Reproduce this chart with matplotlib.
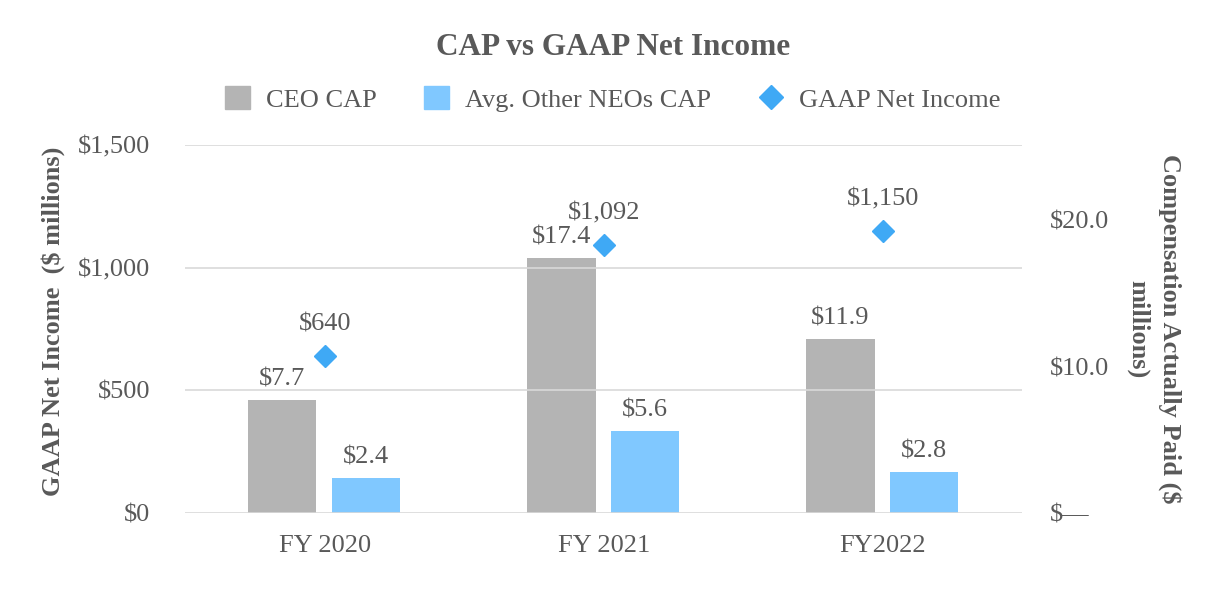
import matplotlib.pyplot as plt
import numpy as np
from matplotlib.patches import Patch
from matplotlib.lines import Line2D

plt.rcParams["font.family"] = ["Liberation Serif", "DejaVu Serif"]

# data
years = ["FY 2020", "FY 2021", "FY2022"]
ceo_cap = [7.7, 17.4, 11.9]
neo_cap = [2.4, 5.6, 2.8]
net_income = [640, 1092, 1150]

TXT = "#595959"
GRAY = "#B4B4B4"
LIGHT = "#80C8FF"
DIAMOND = "#3FA9F5"
FS = 19

fig = plt.figure(figsize=(12.26, 5.9), dpi=100)
ax = fig.add_axes([0.151, 0.1305, 0.683, 0.6235])
ax2 = ax.twinx()

x = np.arange(len(years))
w = 0.245

# bars on the right (compensation) axis
ax2.bar(x - 0.152, ceo_cap, w, color=GRAY, zorder=2)
ax2.bar(x + 0.148, neo_cap, w, color=LIGHT, zorder=2)
for xi, v in zip(x, ceo_cap):
    ax2.annotate(f"${v:.1f}", (xi - 0.152, v), xytext=(0, 7), textcoords="offset points",
                 ha="center", va="bottom", fontsize=FS, color=TXT)
for xi, v in zip(x, neo_cap):
    ax2.annotate(f"${v:.1f}", (xi + 0.148, v), xytext=(0, 7), textcoords="offset points",
                 ha="center", va="bottom", fontsize=FS, color=TXT)

# diamonds on the left (net income) axis
ax.plot(x, net_income, linestyle="none", marker="D", markersize=11, color=DIAMOND, zorder=3)
for xi, v in zip(x, net_income):
    ax.annotate(f"${v:,.0f}", (xi, v), xytext=(0, 15), textcoords="offset points",
                ha="center", va="bottom", fontsize=FS, color=TXT)

ax.set_zorder(ax2.get_zorder() + 1)
ax.patch.set_visible(False)

ax.set_xlim(-0.5, 2.5)
ax.set_ylim(0, 1500)
ax.set_yticks([0, 500, 1000, 1500])
ax.set_yticklabels(["$0", "$500", "$1,000", "$1,500"])
ax2.set_ylim(0, 25.15)
ax2.set_yticks([0, 10, 20])
ax2.set_yticklabels(["$\u2014", "$10.0", "$20.0"])

ax.set_xticks(x)
ax.set_xticklabels(years)

ax.grid(axis="y", color="#D9D9D9", linewidth=1.2, zorder=0)
for a in (ax, ax2):
    for s in a.spines.values():
        s.set_visible(False)
    a.tick_params(length=0, labelsize=FS, labelcolor=TXT)
ax.tick_params(axis="y", pad=25)
ax.tick_params(axis="x", pad=16)
ax2.tick_params(axis="y", pad=20)

ax.set_ylabel("GAAP Net Income  ($ millions)", fontsize=FS, fontweight="bold", color=TXT)
ax.yaxis.set_label_coords(-0.143, 0.52)
ax2.set_ylabel("Compensation Actually Paid ($\nmillions)", fontsize=FS, fontweight="bold",
               color=TXT, rotation=-90, va="bottom", labelpad=12, linespacing=1.45)

fig.suptitle("CAP vs GAAP Net Income", x=0.5, y=0.944, fontsize=22.5, fontweight="bold", color=TXT)

handles = [
    Patch(color=GRAY, label="CEO CAP"),
    Patch(color=LIGHT, label="Avg. Other NEOs CAP"),
    Line2D([], [], linestyle="none", marker="D", markersize=12, color=DIAMOND, label="GAAP Net Income"),
]
leg = fig.legend(handles=handles, loc="center", bbox_to_anchor=(0.5, 0.832), ncol=3, frameon=False,
                 fontsize=FS, handlelength=0.95, handleheight=0.95, columnspacing=1.8, handletextpad=0.6)
for t in leg.get_texts():
    t.set_color(TXT)

fig.savefig("out.png", dpi=100)
